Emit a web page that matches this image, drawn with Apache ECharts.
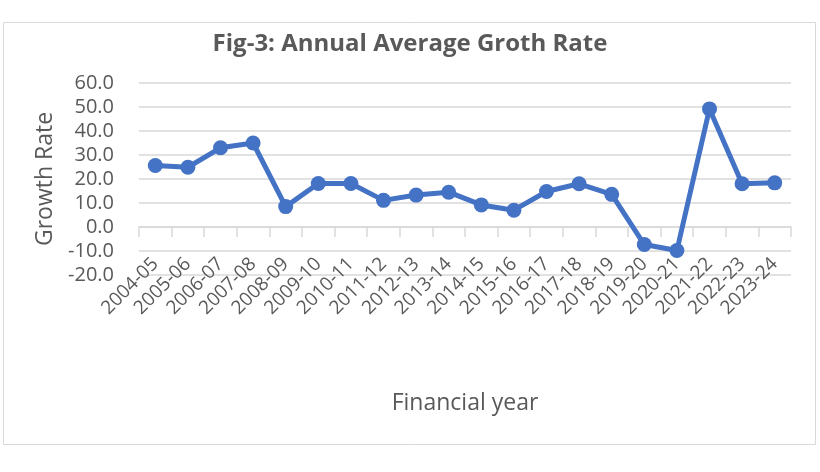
<!DOCTYPE html>
<html>
<head>
<meta charset="utf-8">
<script src="https://cdn.jsdelivr.net/npm/echarts@6/dist/echarts.min.js"></script>
<style>
html,body{margin:0;padding:0;background:#fff;}
#chart{width:820px;height:472px;}
</style>
</head>
<body>
<div id="chart"></div>
<script>
const categories = ["2004-05","2005-06","2006-07","2007-08","2008-09","2009-10","2010-11","2011-12","2012-13","2013-14","2014-15","2015-16","2016-17","2017-18","2018-19","2019-20","2020-21","2021-22","2022-23","2023-24"];
const growthRate = [25.6, 24.9, 33.0, 35.0, 8.5, 18.1, 18.1, 11.1, 13.3, 14.5, 9.2, 7.0, 14.8, 18.0, 13.6, -7.3, -9.8, 49.2, 18.0, 18.4];
const titleText = "Fig-3: Annual Average Groth Rate";
const yAxisName = "Growth Rate";
const xAxisName = "Financial year";

const chart = echarts.init(document.getElementById('chart'), null, {renderer:'canvas'});
const FONT = '"Open Sans", Lato, sans-serif';
chart.setOption({
  animation: false,
  backgroundColor: '#ffffff',
  graphic: [{
    type: 'rect', left: 3, top: 22, z: -1,
    shape: {width: 812, height: 422},
    style: {fill: '#ffffff', stroke: '#d9d9d9', lineWidth: 1}
  }],
  title: {
    text: titleText, left: 'center', top: 27,
    textStyle: {fontFamily: FONT, fontWeight: 'bold', fontSize: 24, color: '#595959'}
  },
  grid: {left: 139, right: 29, top: 83, bottom: 197, containLabel: false},
  xAxis: {
    type: 'category', data: categories, boundaryGap: true,
    axisLine: {show: true, onZero: true, lineStyle: {color: '#d9d9d9', width: 1.5}},
    axisTick: {show: true, length: 10, alignWithLabel: false, lineStyle: {color: '#d9d9d9', width: 1.5}},
    axisLabel: {rotate: 45, interval: 0, margin: -14, fontFamily: FONT, fontSize: 19, color: '#595959'},
    name: xAxisName, nameLocation: 'middle', nameGap: 117,
    nameTextStyle: {fontFamily: FONT, fontSize: 23, color: '#595959'}
  },
  yAxis: {
    type: 'value', min: -20, max: 60, interval: 10,
    axisLine: {show: false}, axisTick: {show: false},
    splitLine: {lineStyle: {color: '#d9d9d9', width: 1.5}},
    axisLabel: {formatter: v => v.toFixed(1), fontFamily: FONT, fontSize: 20, color: '#595959', margin: 25},
    name: yAxisName, nameLocation: 'middle', nameGap: 81,
    nameTextStyle: {fontFamily: FONT, fontSize: 23, color: '#595959'}
  },
  series: [{
    type: 'line', data: growthRate,
    symbol: 'circle', symbolSize: 15,
    lineStyle: {color: '#4472C4', width: 5},
    itemStyle: {color: '#4472C4'}
  }]
});
</script>
</body>
</html>
